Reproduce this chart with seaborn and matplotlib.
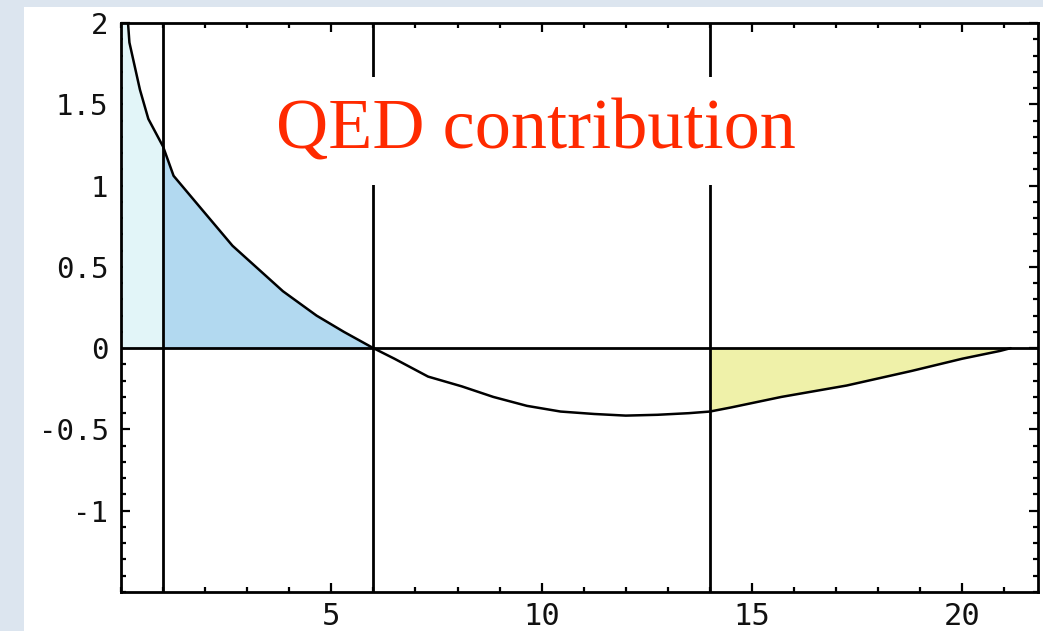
import matplotlib
matplotlib.use("Agg")
import matplotlib.pyplot as plt
from matplotlib.patches import Rectangle
from matplotlib.ticker import MultipleLocator, FixedLocator
import numpy as np
import pandas as pd
import seaborn as sns

# Curve samples (x, contribution)
x_vals = [0.03, 0.2, 0.45, 0.65, 1.0, 1.25, 1.9, 2.65, 3.25, 3.85, 4.65, 5.3,
          6.0, 6.5, 7.3, 8.1, 8.85, 9.65, 10.45, 11.25, 12.0, 12.75, 13.5,
          14.0, 14.5, 15.7, 17.25, 18.8, 20.0, 20.9, 21.15]
y_vals = [2.5, 1.88, 1.59, 1.41, 1.24, 1.06, 0.86, 0.63, 0.49, 0.35, 0.20, 0.10,
          0.0, -0.065, -0.175, -0.235, -0.30, -0.355, -0.39, -0.405, -0.415,
          -0.41, -0.40, -0.39, -0.365, -0.30, -0.23, -0.14, -0.065, -0.017, 0.0]

# Vertical markers and shaded bands
vlines_x = [1, 6, 14]
band_light = (0.0, 1.0)
band_blue = (1.0, 6.0)
band_yellow = (14.0, 21.15)

x_ticks = [5, 10, 15, 20]
x_tick_labels = ["5", "10", "15", "20"]
y_ticks = [-1, -0.5, 0, 0.5, 1, 1.5, 2]
y_tick_labels = ["-1", "-0.5", "0", "0.5", "1", "1.5", "2"]

title_text = "QED contribution"

sns.set_theme(style="ticks")
plt.rcParams["axes.unicode_minus"] = False

W, H = 1043, 631
fig = plt.figure(figsize=(W / 100, H / 100), dpi=100, facecolor="#dce5ef")
fig.patches.append(Rectangle((24 / W, 0), 1, (H - 7) / H, transform=fig.transFigure,
                             facecolor="white", edgecolor="none", zorder=-10))

ax = fig.add_axes([121 / W, (H - 592) / H, (1038 - 121) / W, (592 - 23) / H])
ax.set_zorder(1)
ax.set_facecolor("white")

df = pd.DataFrame({"x": x_vals, "y": y_vals})
xs = np.array(x_vals)
ys = np.array(y_vals)


def band(lo, hi, color):
    # dense resampling of the curve inside [lo, hi] for the shaded region
    xx = np.linspace(max(lo, xs[0]), hi, 200)
    yy = np.interp(xx, xs, ys)
    ax.fill_between(xx, 0, yy, color=color, linewidth=0, zorder=1)


band(*band_light, "#e2f5f8")
band(*band_blue, "#b2d9f0")
band(*band_yellow, "#eff1a9")

ax.axhline(0, color="black", linewidth=2.0, zorder=2)
for xv in vlines_x:
    ax.axvline(xv, color="black", linewidth=2.0, zorder=2)

sns.lineplot(data=df, x="x", y="y", ax=ax, color="black", linewidth=1.8,
             zorder=3, sort=False)

ax.set_xlim(0, 21.8)
ax.set_ylim(-1.5, 2)
ax.set_xlabel("")
ax.set_ylabel("")

ax.xaxis.set_major_locator(FixedLocator(x_ticks))
ax.set_xticklabels(x_tick_labels)
ax.xaxis.set_minor_locator(MultipleLocator(1))
ax.yaxis.set_major_locator(FixedLocator(y_ticks))
ax.set_yticklabels(y_tick_labels)
ax.yaxis.set_minor_locator(MultipleLocator(0.1))

ax.tick_params(which="both", direction="in", top=True, right=True,
               color="black", width=1.6)
ax.tick_params(which="major", length=6.5)
ax.tick_params(which="minor", length=3.8)
ax.tick_params(axis="y", which="major", pad=9)
ax.tick_params(axis="x", which="major", pad=7)
for lab in ax.get_yticklabels():
    lab.set_fontfamily("DejaVu Sans Mono")
    lab.set_fontsize(21)
    lab.set_color("#111111")
for lab in ax.get_xticklabels():
    lab.set_fontfamily("DejaVu Sans Mono")
    lab.set_fontsize(22)
    lab.set_color("#111111")

for sp in ax.spines.values():
    sp.set_linewidth(2.0)
    sp.set_color("black")
    sp.set_zorder(5)

ax.text(9.87, 1.226, title_text, color="#ff2a00", fontsize=52,
        family="Liberation Serif", ha="center", va="baseline", zorder=6,
        bbox=dict(boxstyle="square,pad=0.3", facecolor="white", edgecolor="none"))

fig.savefig("out.png", dpi=100, facecolor=fig.get_facecolor())
